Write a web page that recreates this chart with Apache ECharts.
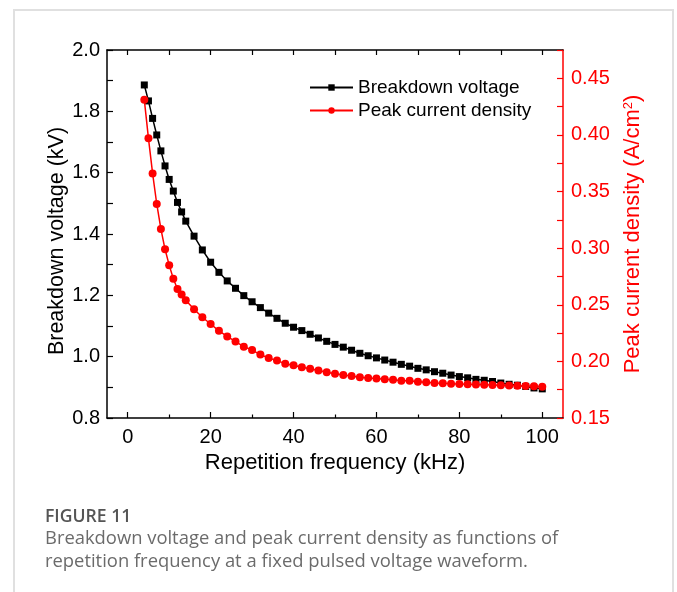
<!DOCTYPE html>
<html>
<head>
<meta charset="utf-8">
<script src="https://cdn.jsdelivr.net/npm/echarts@6/dist/echarts.min.js"></script>
<style>
html,body{margin:0;padding:0;background:#fff;}
#wrap{position:relative;width:677px;height:592px;overflow:hidden;background:#fff;}
#frame{position:absolute;left:13px;top:9px;width:661px;height:700px;border:2px solid #e0e0e0;box-sizing:border-box;}
#chart{position:absolute;left:0;top:0;width:677px;height:592px;}
#cap{position:absolute;left:45px;top:502px;font-family:'Open Sans',sans-serif;color:#6b6b6b;}
#cap .fig{font-weight:600;color:#555;font-size:17.6px;line-height:23px;position:relative;top:2px;}
#cap .txt{font-size:18.4px;line-height:23px;}
</style>
</head>
<body>
<div id="wrap">
  <div id="frame"></div>
  <div id="chart"></div>
  <div id="cap"><div class="fig">FIGURE 11</div><div class="txt">Breakdown voltage and peak current density as functions of<br>repetition frequency at a fixed pulsed voltage waveform.</div></div>
</div>
<script>
const freq = [4,5,6,7,8,9,10,11,12,13,14,16,18,20,22,24,26,28,30,32,34,36,38,40,42,44,46,48,50,52,54,56,58,60,62,64,66,68,70,72,74,76,78,80,82,84,86,88,90,92,94,96,98,100];
const breakdownVoltage = [1.886,1.834,1.777,1.723,1.671,1.622,1.578,1.540,1.503,1.472,1.442,
  1.393,1.348,1.308,1.275,1.247,1.223,1.199,1.179,1.160,1.142,
  1.125,1.109,1.096,1.085,1.073,1.061,1.050,1.040,1.031,1.021,
  1.011,1.003,0.996,0.989,0.982,0.975,0.969,0.962,0.957,0.951,
  0.946,0.940,0.935,0.931,0.926,0.923,0.919,0.914,0.910,0.907,
  0.903,0.898,0.895];
const peakCurrentDensity = [0.431,0.397,0.366,0.339,0.317,0.299,0.285,0.273,0.264,0.259,0.254,
  0.246,0.239,0.233,0.227,0.222,0.2175,0.213,0.210,0.206,0.203,
  0.2007,0.198,0.1966,0.1948,0.1934,0.1919,0.1904,0.189,0.188,0.187,
  0.186,0.1854,0.1848,0.1842,0.1837,0.183,0.1828,0.182,0.1816,0.181,
  0.1807,0.1803,0.180,0.1797,0.1795,0.1793,0.1791,0.1789,0.1787,0.1785,
  0.1782,0.178,0.1776];
const xMajorTicks = [0,20,40,60,80,100];
const xMinorTicks = [10,30,50,70,90];
const xAllTicks = [0,10,20,30,40,50,60,70,80,90,100];
const leftTicks = [0.8,0.9,1.0,1.1,1.2,1.3,1.4,1.5,1.6,1.7,1.8,1.9,2.0];
const leftLabels = [0.8,1.0,1.2,1.4,1.6,1.8,2.0];
const rightTicks = [0.15,0.175,0.2,0.225,0.25,0.275,0.3,0.325,0.35,0.375,0.4,0.425,0.45,0.475];
const rightLabels = [0.15,0.2,0.25,0.3,0.35,0.4,0.45];
const seriesNames = ['Breakdown voltage','Peak current density'];
const xTitle = 'Repetition frequency (kHz)';
const leftTitle = 'Breakdown voltage (kV)';
const rightTitle = 'Peak current density (A/cm{sup|2})';

const FONT = "'Liberation Sans', Arial, sans-serif";
const RED = '#ff0000';

const chart = echarts.init(document.getElementById('chart'), null, {renderer: 'canvas'});
chart.setOption({
  animation: false,
  backgroundColor: 'transparent',
  textStyle: {fontFamily: FONT},
  grid: {left: 107, right: 114, top: 50, bottom: 174, containLabel: false},
  legend: {
    orient: 'vertical', left: 304, top: 73,
    itemWidth: 43, itemHeight: 8, itemGap: 4,
    textStyle: {fontSize: 19, color: '#000', fontFamily: FONT},
    data: seriesNames
  },
  xAxis: [
    {
      type: 'value', position: 'bottom', min: -5, max: 105,
      axisLine: {show: true, onZero: false, lineStyle: {color: '#000', width: 1.5}},
      axisTick: {show: true, inside: true, length: 6, customValues: xMajorTicks, lineStyle: {color: '#000', width: 1.2}},
      axisLabel: {show: true, customValues: xMajorTicks, fontSize: 20, color: '#000', margin: 9, fontFamily: FONT},
      splitLine: {show: false},
      name: xTitle, nameLocation: 'middle', nameGap: 34,
      nameTextStyle: {fontSize: 22, color: '#000', fontFamily: FONT}
    },
    {
      type: 'value', position: 'bottom', min: -5, max: 105,
      axisLine: {show: false, onZero: false},
      axisTick: {show: true, inside: true, length: 3.5, customValues: xMinorTicks, lineStyle: {color: '#000', width: 1.2}},
      axisLabel: {show: false},
      splitLine: {show: false}
    },
    {
      type: 'value', position: 'top', min: -5, max: 105,
      axisLine: {show: true, onZero: false, lineStyle: {color: '#000', width: 1.5}},
      axisTick: {show: true, inside: true, length: 5, customValues: xAllTicks, lineStyle: {color: '#000', width: 1.2}},
      axisLabel: {show: false},
      splitLine: {show: false}
    }
  ],
  yAxis: [
    {
      type: 'value', position: 'left', min: 0.8, max: 2.0,
      axisLine: {show: true, onZero: false, lineStyle: {color: '#000', width: 1.5}},
      axisTick: {show: true, inside: true, length: 6, customValues: leftTicks, lineStyle: {color: '#000', width: 1.2}},
      axisLabel: {show: true, customValues: leftLabels, fontSize: 20, color: '#000', margin: 7, fontFamily: FONT,
        formatter: v => Number(v).toFixed(1)},
      splitLine: {show: false},
      name: leftTitle, nameLocation: 'middle', nameGap: 39, nameRotate: 90, nameMoveOverlap: false,
      nameTextStyle: {fontSize: 21.5, color: '#000', fontFamily: FONT, padding: [0, 14, 0, 0]}
    },
    {
      type: 'value', position: 'right', min: 0.15, max: 0.475,
      axisLine: {show: true, onZero: false, lineStyle: {color: RED, width: 1.5}},
      axisTick: {show: true, inside: true, length: 6, customValues: rightTicks, lineStyle: {color: RED, width: 1.2}},
      axisLabel: {show: true, customValues: rightLabels, fontSize: 20, color: RED, margin: 8, fontFamily: FONT,
        formatter: v => Number(v).toFixed(2)},
      splitLine: {show: false},
      name: rightTitle, nameLocation: 'middle', nameGap: 59, nameRotate: 90,
      nameTextStyle: {fontSize: 22, color: RED, fontFamily: FONT,
        rich: {sup: {fontSize: 13, color: RED, verticalAlign: 'top', fontFamily: FONT}}}
    }
  ],
  series: [
    {
      name: seriesNames[0], type: 'line', xAxisIndex: 0, yAxisIndex: 0,
      data: freq.map((f, i) => [f, breakdownVoltage[i]]),
      symbol: 'rect', symbolSize: 7,
      lineStyle: {color: '#000', width: 1.5},
      itemStyle: {color: '#000'},
      z: 2
    },
    {
      name: seriesNames[1], type: 'line', xAxisIndex: 0, yAxisIndex: 1,
      data: freq.map((f, i) => [f, peakCurrentDensity[i]]),
      symbol: 'circle', symbolSize: 8,
      lineStyle: {color: RED, width: 1.5},
      itemStyle: {color: RED},
      z: 3
    }
  ]
});
</script>
</body>
</html>
